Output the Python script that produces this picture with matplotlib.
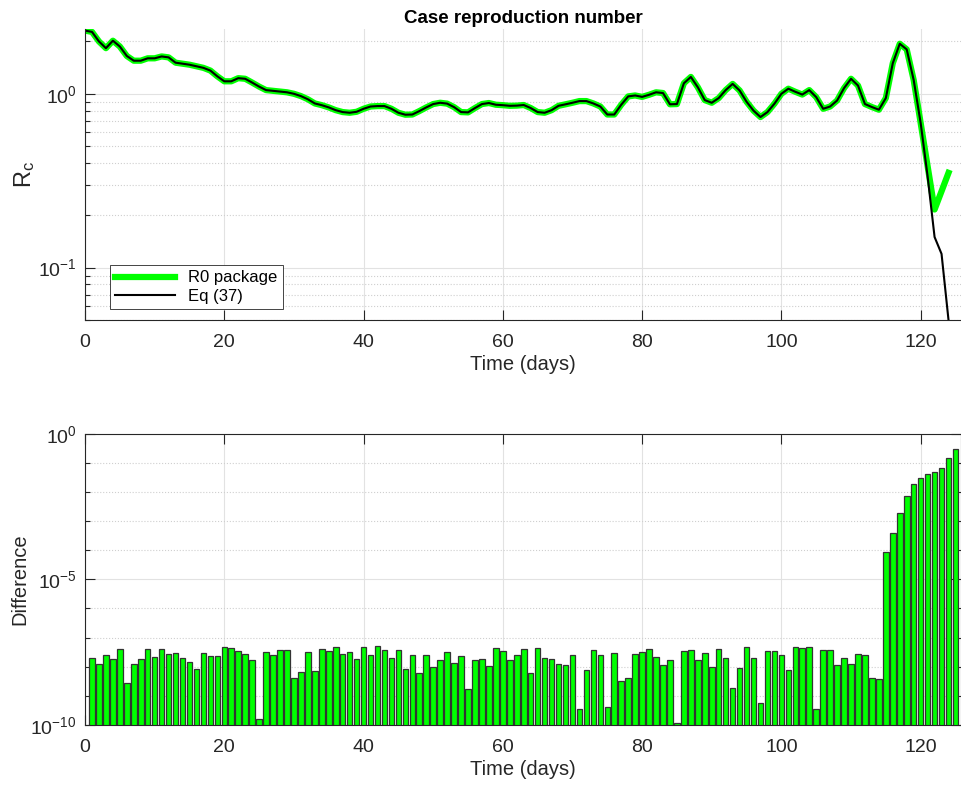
import numpy as np
import matplotlib.pyplot as plt
from matplotlib.ticker import FixedLocator, NullFormatter, LogFormatterSciNotation

plt.rcParams['font.family'] = ['Liberation Sans', 'DejaVu Sans']
plt.rcParams['mathtext.default'] = 'regular'

# Rc curve, one value per day (0..124)
days = np.arange(0, 125)
r0_package = [
    2.31, 2.27, 2.00, 1.83, 2.02, 1.87, 1.65, 1.55, 1.55, 1.60,
    1.60, 1.64, 1.62, 1.51, 1.49, 1.47, 1.44, 1.41, 1.36, 1.26,
    1.18, 1.18, 1.23, 1.22, 1.16, 1.10, 1.05, 1.04, 1.03, 1.02,
    1.00, 0.97, 0.93, 0.88, 0.86, 0.835, 0.805, 0.785, 0.778, 0.788,
    0.82, 0.845, 0.85, 0.85, 0.82, 0.778, 0.758, 0.76, 0.795, 0.835,
    0.873, 0.888, 0.878, 0.838, 0.785, 0.782, 0.828, 0.873, 0.885, 0.865,
    0.86, 0.853, 0.855, 0.862, 0.828, 0.785, 0.778, 0.805, 0.853, 0.87,
    0.888, 0.908, 0.908, 0.88, 0.845, 0.76, 0.76, 0.865, 0.966, 0.978,
    0.96, 0.987, 1.02, 1.01, 0.87, 0.873, 1.15, 1.25, 1.09, 0.92,
    0.888, 0.945, 1.05, 1.14, 1.045, 0.90, 0.80, 0.735, 0.785, 0.877,
    1.00, 1.07, 1.027, 0.99, 1.05, 0.957, 0.82, 0.845, 0.915, 1.078,
    1.22, 1.116, 0.873, 0.839, 0.81, 0.945, 1.50, 1.94, 1.80, 1.20,
    0.68, 0.383, 0.216, 0.275, 0.351,
]
# Eq (37) sits on top of the R0 curve until the last few days
eq37_tail = [0.335, 0.150, 0.120, 0.050]
eq37 = r0_package[:121] + eq37_tail

# difference bars (log10 of value), plotted at days 1..125
bar_days = np.arange(1, 126)
diff_exp = [
    -7.71, -7.91, -7.61, -7.74, -7.38, -8.58, -7.90, -7.75, -7.38, -7.68,
    -7.38, -7.58, -7.52, -7.72, -7.83, -8.08, -7.53, -7.65, -7.63, -7.34,
    -7.37, -7.48, -7.57, -7.77, -9.80, -7.49, -7.61, -7.44, -7.42, -8.38,
    -8.19, -7.51, -8.16, -7.41, -7.46, -7.33, -7.57, -7.50, -7.75, -7.32,
    -7.59, -7.30, -7.44, -7.72, -7.42, -8.10, -7.61, -8.22, -7.59, -8.02,
    -7.79, -7.50, -7.88, -7.65, -8.77, -7.76, -7.75, -7.99, -7.36, -7.45,
    -7.79, -7.61, -7.38, -8.22, -7.35, -7.71, -7.74, -7.92, -7.95, -7.59,
    -9.46, -8.13, -7.42, -7.60, -9.40, -7.53, -8.49, -8.38, -7.56, -7.51,
    -7.40, -7.68, -7.93, -7.77, -9.93, -7.48, -7.42, -7.77, -7.52, -8.03,
    -7.40, -7.69, -8.73, -8.04, -7.34, -7.70, -9.24, -7.46, -7.46, -7.61,
    -8.12, -7.32, -7.37, -7.33, -9.47, -7.44, -7.42, -7.96, -7.69, -7.90,
    -7.56, -7.60, -8.39, -8.44, -4.07, -3.41, -2.71, -2.14, -1.73, -1.50,
    -1.38, -1.32, -1.18, -0.83, -0.53,
]
difference = 10.0 ** np.array(diff_exp)

xticks = [0, 20, 40, 60, 80, 100, 120]
dark = '#262626'


def style(ax):
    ax.set_xlim(0, 125.8)
    ax.set_xticks(xticks)
    ax.tick_params(which='both', direction='in', colors=dark, labelsize=14)
    ax.tick_params(axis='x', pad=10)
    ax.tick_params(axis='y', pad=6)
    ax.tick_params(which='major', length=7, width=0.8)
    ax.tick_params(which='minor', length=3.5, width=0.8)
    ax.grid(True, which='major', color='#e2e2e2', lw=0.8, ls='-')
    ax.grid(True, which='minor', color='#cfcfcf', lw=0.8, ls=':')
    ax.set_axisbelow(True)
    for s in ax.spines.values():
        s.set_color(dark)
        s.set_linewidth(0.8)


fig = plt.figure(figsize=(9.62, 7.85), dpi=100)

# top: case reproduction number
ax1 = fig.add_axes([0.0884, 0.5924, 0.9106, 0.3707])
ax1.plot(days, r0_package, color='#00ff00', lw=4.5, label='R0 package')
ax1.plot(days, eq37, color='black', lw=1.5, label='Eq (37)')
ax1.set_yscale('log')
ax1.set_ylim(0.05, 2.36)
ax1.yaxis.set_major_locator(FixedLocator([0.1, 1]))
ax1.yaxis.set_major_formatter(LogFormatterSciNotation())
ax1.yaxis.set_minor_formatter(NullFormatter())
style(ax1)
ax1.spines['top'].set_visible(False)
ax1.spines['right'].set_visible(False)
ax1.tick_params(which='both', top=False, right=False)
ax1.set_title('Case reproduction number', fontsize=13.5, fontweight='bold', pad=4)
ax1.set_xlabel('Time (days)', fontsize=14.5, color=dark, labelpad=3)
ax1.set_ylabel('R$_c$', fontsize=17, color=dark, labelpad=1)
leg = ax1.legend(loc='lower left', bbox_to_anchor=(0.019, 0.01), fontsize=12,
                 handlelength=3.6, fancybox=False, framealpha=1,
                 edgecolor=dark, borderpad=0.3, labelspacing=0.2)
leg.get_frame().set_linewidth(0.6)

# bottom: difference
ax2 = fig.add_axes([0.0884, 0.0768, 0.9106, 0.3703])
ax2.bar(bar_days, difference, width=0.8, color='#00ff00', edgecolor='#333333', lw=0.9)
ax2.set_yscale('log')
ax2.set_ylim(1e-10, 1)
ax2.yaxis.set_major_locator(FixedLocator([1e-10, 1e-5, 1]))
ax2.yaxis.set_major_formatter(LogFormatterSciNotation())
ax2.yaxis.set_minor_locator(FixedLocator([10.0 ** k for k in range(-9, 0)]))
ax2.yaxis.set_minor_formatter(NullFormatter())
style(ax2)
ax2.tick_params(which='both', top=True, right=True)
ax2.set_xlabel('Time (days)', fontsize=14.5, color=dark, labelpad=3)
ax2.set_ylabel('Difference', fontsize=14.5, color=dark, labelpad=1)

fig.savefig('out.png', dpi=100)
